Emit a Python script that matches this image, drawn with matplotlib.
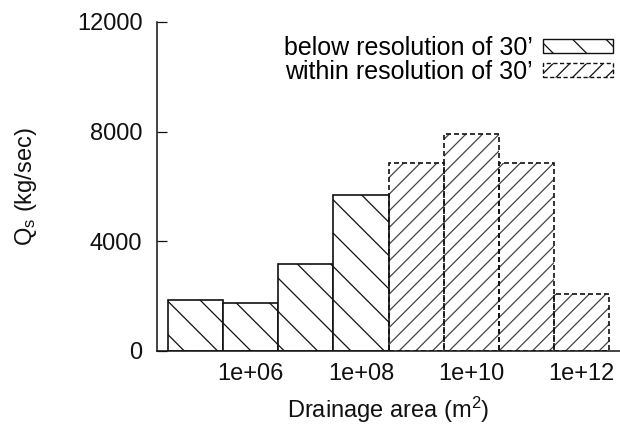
import matplotlib
matplotlib.use('Agg')
import matplotlib.pyplot as plt
import matplotlib.ticker as ticker
from matplotlib.patches import Patch

plt.rcParams['font.family'] = ['Liberation Sans', 'DejaVu Sans']
plt.rcParams['mathtext.fontset'] = 'custom'
plt.rcParams['mathtext.rm'] = 'Liberation Sans'
plt.rcParams['mathtext.it'] = 'Liberation Sans'
plt.rcParams['hatch.linewidth'] = 0.9

# bin centres (log10 of drainage area, m^2) and sediment flux per bin
below_exp = [5, 6, 7, 8]
below_qs = [1850, 1740, 3160, 5690]
within_exp = [9, 10, 11, 12]
within_qs = [6850, 7920, 6870, 2080]

xtick_vals = [1e6, 1e8, 1e10, 1e12]
xtick_labels = ['1e+06', '1e+08', '1e+10', '1e+12']
ytick_vals = [0, 4000, 8000, 12000]

FS = 17
DASH = (0, (3.0, 1.8))


def edges(exps):
    left = [10 ** (e - 0.5) for e in exps]
    width = [10 ** (e + 0.5) - 10 ** (e - 0.5) for e in exps]
    return left, width


fig = plt.figure(figsize=(6.2, 4.29), dpi=100)
ax = fig.add_axes([157 / 620, 78.3 / 429, 463 / 620, (350.7 - 22) / 429])
ax.set_xscale('log')

l, w = edges(below_exp)
ax.bar(l, below_qs, w, align='edge', facecolor='white', edgecolor='#111111',
       hatch='\\', linewidth=1.2, zorder=2)

l, w = edges(within_exp)
# hatch drawn lighter (the original uses dashed hatch lines)
ax.bar(l, within_qs, w, align='edge', fill=False, edgecolor='#444444',
       hatch='//', linewidth=0, zorder=2)
ax.bar(l, within_qs, w, align='edge', fill=False, edgecolor='#111111',
       linestyle=DASH, linewidth=1.2, zorder=3)

ax.set_xlim(10 ** 4.3, 10 ** 12.7)
ax.set_ylim(0, 12000)

ax.set_xticks(xtick_vals)
ax.set_xticklabels(xtick_labels)
ax.xaxis.set_minor_locator(ticker.NullLocator())
ax.set_yticks(ytick_vals)

ax.tick_params(axis='x', length=0, pad=9, labelsize=FS, colors='#111111')
ax.tick_params(axis='y', direction='in', length=7, width=0.9, pad=10.5,
               labelsize=FS, colors='#111111')

for s in ['top', 'right']:
    ax.spines[s].set_visible(False)
for s in ['left', 'bottom']:
    ax.spines[s].set_linewidth(1.1)
    ax.spines[s].set_color('#111111')

ax.set_xlabel('Drainage area (m$^2$)', fontsize=FS, labelpad=7, color='#111111')
ax.set_ylabel('Q$_\\mathrm{s}$ (kg/sec)', fontsize=FS, labelpad=27, color='#111111')

handles = [Patch(facecolor='white', edgecolor='#111111', hatch='\\', linewidth=1.0),
           Patch(fill=False, edgecolor='#111111', hatch='//', linestyle=DASH, linewidth=1.0)]
ax.legend(handles, ['below resolution of 30\u2019', 'within resolution of 30\u2019'],
          loc='upper right', bbox_to_anchor=(1.0, 0.98), frameon=False,
          fontsize=18, markerfirst=False, handlelength=2.8, handleheight=0.5,
          handletextpad=0.4, labelspacing=0.0, borderaxespad=0.1, borderpad=0.2)

fig.savefig('out.png', dpi=100)
